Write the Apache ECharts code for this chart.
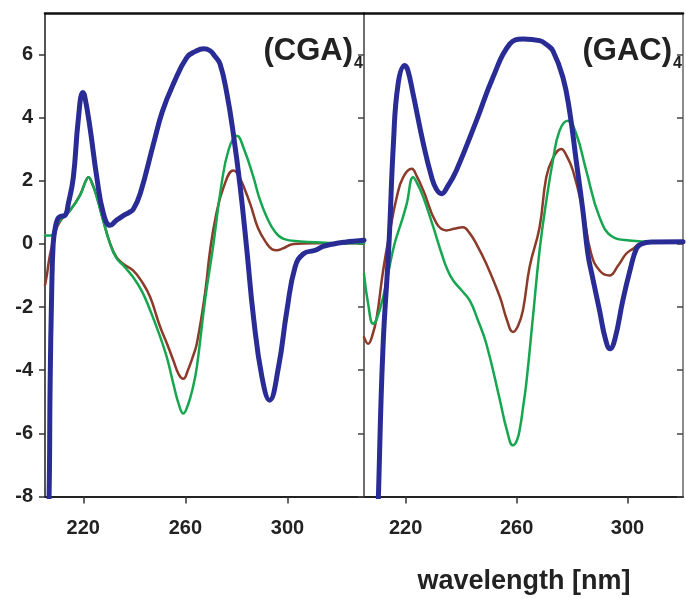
<!DOCTYPE html>
<html>
<head>
<meta charset="utf-8">
<script src="https://cdn.jsdelivr.net/npm/echarts@6/dist/echarts.min.js"></script>
<style>
  html, body { margin: 0; padding: 0; background: #fff; }
  #chart { width: 686px; height: 598px; }
</style>
</head>
<body>
<div id="chart"></div>
<script>
// CD spectra of (CGA)4 and (GAC)4: [wavelength nm, signal]
const cgaBlue = [[205.8,-10],[206.6,-8],[207,-4.5],[207.6,-1.6],[208.2,0],[209,0.5],[210,0.8],[211,0.87],[212.8,0.9],[214.2,1.3],[216.1,2.11],[218,3.9],[219.8,4.8],[220.5,4.7],[222.6,3.7],[225.3,2.11],[227.9,0.96],[230.5,0.59],[233,0.75],[235.7,0.9],[238,1.0],[239.6,1.1],[242.3,1.59],[247.5,3.17],[251,4.2],[255.3,5.07],[260.6,5.91],[264,6.1],[267.1,6.18],[269.7,6.12],[271.5,5.95],[273.6,5.7],[276.3,4.75],[278.8,3.49],[281.5,1.8],[284.1,-0.2],[286.7,-2.32],[290,-4.21],[293,-4.95],[296.5,-3.9],[299.8,-2.1],[303,-0.73],[306.3,-0.31],[310.9,-0.2],[314,-0.08],[318,0],[323,0.06],[328,0.1],[330,0.12]];
const cgaGreen = [[205,0.27],[207.5,0.27],[208.5,0.4],[210.9,0.75],[214.8,1.06],[218.7,1.53],[221,2.0],[222,2.11],[223.5,1.9],[225.3,1.48],[227.8,0.74],[230.5,0],[233,-0.45],[235.7,-0.68],[239.5,-1.05],[243,-1.5],[246.2,-2.1],[249.5,-2.8],[252.7,-3.58],[255.5,-4.5],[257.5,-5.1],[259.2,-5.37],[261,-5.1],[262.8,-4.6],[264.5,-3.9],[267.7,-1.79],[271,0],[274,1.8],[277,3.0],[280.2,3.43],[283,3.0],[286.7,2.11],[289,1.45],[291.9,0.85],[295,0.4],[298.5,0.16],[305,0.08],[315,0.04],[320,0.02],[330,0.02]];
const cgaBrown = [[205,-1.3],[205.8,-0.95],[206.7,-0.45],[207.6,-0.1],[208.5,0.25],[210.9,0.72],[214.8,1.06],[218.7,1.55],[221,2.0],[222,2.11],[223.5,1.92],[225.3,1.5],[227.8,0.76],[230.5,0.02],[233,-0.42],[236,-0.65],[239.5,-0.84],[243,-1.2],[246.2,-1.68],[250,-2.6],[253,-3.2],[255.3,-3.69],[257.5,-4.15],[259.2,-4.27],[261,-4.0],[262.8,-3.6],[264.5,-3.15],[267.7,-1.57],[269.7,-0.2],[272,0.9],[275,1.8],[278.8,2.33],[281,2.15],[285.4,1.27],[288.5,0.5],[292,0],[294,-0.17],[295.8,-0.2],[298,-0.15],[302.4,0],[310,0.02],[330,0.02]];

const gacBlue = [[209.6,-10],[210.2,-8],[211.8,-3.37],[214,0],[215.6,3.17],[217.3,5.07],[219.7,5.65],[220.8,5.5],[222.7,4.75],[226.4,3.17],[229.4,2.11],[231,1.75],[233,1.59],[235,1.8],[238.3,2.33],[245.5,3.9],[251.5,5.28],[257.5,6.33],[262.3,6.49],[268.3,6.44],[271,6.3],[273.1,6.12],[276.7,5.28],[279.1,4.22],[281.5,2.64],[283.9,1.06],[285.7,-0.31],[287,-0.9],[289.9,-2.1],[292,-3.0],[293.7,-3.32],[295.5,-3.0],[298.3,-1.79],[301,-0.8],[303.2,-0.15],[305,0],[309,0.06],[320,0.07]];
const gacGreen = [[205,-0.94],[206.5,-1.9],[208.3,-2.53],[209.5,-2.4],[211.9,-1.68],[214,-0.8],[216,0],[218.5,0.7],[220.4,1.27],[222.7,2.11],[224,1.95],[226.4,1.48],[230,0.53],[233,-0.31],[235,-0.8],[237.1,-1.15],[240,-1.45],[243.1,-1.79],[246,-2.4],[249.1,-3.16],[254,-4.95],[256.5,-5.9],[258.7,-6.38],[260.2,-6.2],[261.3,-5.8],[262.3,-5.2],[263.5,-4.42],[265.9,-2.32],[268.3,-0.2],[270.7,1.35],[273.1,2.64],[275.5,3.59],[278.5,3.9],[281.5,3.49],[285.1,2.33],[289.9,0.85],[294.7,0.22],[300.7,0.11],[310,0.07],[320,0.07]];
const gacBrown = [[205,-2.95],[206.5,-3.16],[208,-2.9],[209.6,-2.32],[211.9,-0.84],[214.4,0.43],[216.8,1.48],[219.1,2.11],[222.2,2.38],[224,2.15],[226.4,1.69],[231.2,0.64],[234.7,0.43],[237.5,0.48],[240.7,0.53],[243,0.35],[245.5,0],[249.1,-0.63],[254,-1.68],[256.5,-2.4],[258.7,-2.79],[260.5,-2.6],[262.3,-2.1],[264.7,-0.73],[268.3,0.53],[270.7,2.11],[273,2.7],[276.1,3.01],[278,2.8],[280.3,2.33],[283.9,1.06],[286.9,-0.31],[290,-0.85],[293.5,-1.0],[296.5,-0.7],[299.5,-0.31],[302,-0.15],[304.3,0],[310,0.07],[320,0.07]];

const xTicks = [220, 260, 300];
const yTicks = [-8, -6, -4, -2, 0, 2, 4, 6];
const panelTitles = ['(CGA)', '(GAC)'];
const subscript = '4';
const xTitle = 'wavelength [nm]';

const BLUE = '#2a2c96', GREEN = '#17a650', BROWN = '#8c3a2a';
const FONT = '"Liberation Sans", Arial, sans-serif';
const labelStyle = { fontSize: 20, fontWeight: 'bold', color: '#222', fontFamily: FONT };

function bottomAxis(grid, max) {
  return {
    type: 'value', gridIndex: grid, min: 205, max: max, position: 'bottom',
    axisLine: { onZero: false, lineStyle: { color: '#222', width: 2 } },
    axisTick: { customValues: xTicks, length: 7, lineStyle: { color: '#333', width: 1.5 } },
    axisLabel: Object.assign({ customValues: xTicks, margin: 22 }, labelStyle),
    splitLine: { show: false }
  };
}
function topAxis(grid, max) {
  return {
    type: 'value', gridIndex: grid, min: 205, max: max, position: 'top',
    axisLine: { onZero: false, lineStyle: { color: '#111', width: 2.5 } },
    axisTick: { show: false }, axisLabel: { show: false }, splitLine: { show: false }
  };
}
function sideAxis(grid, pos, opts) {
  return Object.assign({
    type: 'value', gridIndex: grid, min: -8, max: 7.3, position: pos,
    axisLine: { onZero: false, lineStyle: { color: '#666', width: 1.5 } },
    axisTick: { show: false }, axisLabel: { show: false }, splitLine: { show: false }
  }, opts || {});
}

function line(data, xi, yi, color, width, z) {
  return {
    type: 'line', data: data, xAxisIndex: xi, yAxisIndex: yi,
    showSymbol: false, smooth: 0.45, clip: true, z: z,
    lineStyle: { color: color, width: width, cap: 'round', join: 'round' }
  };
}

const chart = echarts.init(document.getElementById('chart'));
chart.setOption({
  animation: false,
  backgroundColor: '#fff',
  grid: [
    { left: 45, top: 13.5, width: 319, height: 483 },
    { left: 364, top: 13.5, width: 319, height: 483 }
  ],
  xAxis: [bottomAxis(0, 330), topAxis(0, 330), bottomAxis(1, 320), topAxis(1, 320)],
  yAxis: [
    sideAxis(0, 'left', {
      axisLine: { onZero: false, lineStyle: { color: '#555', width: 2 } },
      axisTick: { show: true, customValues: yTicks, length: 6, lineStyle: { color: '#333', width: 1.5 } },
      axisLabel: Object.assign({ show: true, customValues: yTicks, margin: 12 }, labelStyle)
    }),
    sideAxis(0, 'right', {
      axisTick: { show: true, inside: true, customValues: yTicks, length: 6, lineStyle: { color: '#444', width: 1.5 } }
    }),
    sideAxis(1, 'left'),
    sideAxis(1, 'right', {
      axisTick: { show: true, inside: true, customValues: yTicks, length: 6, lineStyle: { color: '#444', width: 1.5 } }
    })
  ],
  series: [
    line(cgaBrown, 0, 0, BROWN, 2.5, 2),
    line(cgaGreen, 0, 0, GREEN, 2.5, 3),
    line(cgaBlue, 0, 0, BLUE, 5, 4),
    line(gacBrown, 2, 2, BROWN, 2.5, 2),
    line(gacGreen, 2, 2, GREEN, 2.5, 3),
    line(gacBlue, 2, 2, BLUE, 5, 4)
  ],
  graphic: [
    { type: 'text', x: 353, y: 51, style: { text: panelTitles[0], align: 'right', verticalAlign: 'middle', font: 'bold 31px ' + FONT, fill: '#222' } },
    { type: 'text', x: 354, y: 64, style: { text: subscript, align: 'left', verticalAlign: 'middle', font: 'bold 16px ' + FONT, fill: '#222' } },
    { type: 'text', x: 672, y: 51, style: { text: panelTitles[1], align: 'right', verticalAlign: 'middle', font: 'bold 31px ' + FONT, fill: '#222' } },
    { type: 'text', x: 673, y: 64, style: { text: subscript, align: 'left', verticalAlign: 'middle', font: 'bold 16px ' + FONT, fill: '#222' } },
    { type: 'text', x: 524, y: 582, style: { text: xTitle, align: 'center', verticalAlign: 'middle', font: 'bold 27px ' + FONT, fill: '#222' } }
  ]
});
</script>
</body>
</html>
